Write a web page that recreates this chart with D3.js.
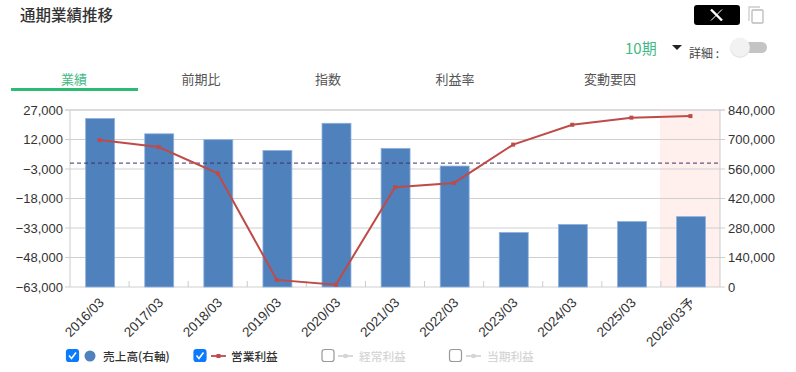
<!DOCTYPE html>
<html>
<head>
<meta charset="utf-8">
<script src="https://cdn.jsdelivr.net/npm/d3@7"></script>
<style>
  html, body { margin: 0; padding: 0; background: #fff; }
  svg { display: block; }
  text { font-family: "Noto Sans CJK JP", "Liberation Sans", sans-serif; }
  .num { font-family: "Liberation Sans", sans-serif; font-size: 13px; fill: #333; }
</style>
</head>
<body>
<div id="chart"></div>
<script>
// Data
const periods = ["2016/03", "2017/03", "2018/03", "2019/03", "2020/03", "2021/03", "2022/03", "2023/03", "2024/03", "2025/03", "2026/03予"]
const sales = [800000, 727000, 699000, 648000, 777000, 658000, 574000, 259000, 297000, 311000, 334000]
const operatingProfit = [11700, 8200, -5200, -59400, -61800, -12300, -10100, 9400, 19500, 23100, 23900]
const leftTicks = [27000, 12000, -3000, -18000, -33000, -48000, -63000]
const rightTicks = [840000, 700000, 560000, 420000, 280000, 140000, 0]
const tabs = ["業績", "前期比", "指数", "利益率", "変動要因"]
const forecastPeriod = "2026/03予"

const margin = { top: 110, right: 76, bottom: 85, left: 70 }
const width = 796 - margin.left - margin.right
const height = 372 - margin.top - margin.bottom

const svg = d3.select("#chart").append("svg").attr("width", 796).attr("height", 372)

// Header
svg.append("text").attr("x", 20).attr("y", 21).attr("font-size", 15.5).attr("font-weight", 500).attr("fill", "#333").text("通期業績推移")

svg.append("rect").attr("x", 694).attr("y", 5).attr("width", 46).attr("height", 20).attr("rx", 3).attr("fill", "#000")
// X logo
svg.append("path").attr("d", "M711 9.5L722 20.5").attr("stroke", "#fff").attr("stroke-width", 2.4)
svg.append("path").attr("d", "M722 9.5L711 20.5").attr("stroke", "#fff").attr("stroke-width", 1)

// Copy icon
svg.append("path").attr("d", "M749 21V7H760").attr("fill", "none").attr("stroke", "#ccc").attr("stroke-width", 1.3)
svg.append("rect").attr("x", 752).attr("y", 10).attr("width", 11).attr("height", 13).attr("rx", 1).attr("fill", "#fff").attr("stroke", "#bbb").attr("stroke-width", 1.3)

svg.append("text").attr("x", 625).attr("y", 54).attr("font-size", 15).attr("fill", "#3fba84").text("10期")
svg.append("path").attr("d", "M672 45H682L677 50Z").attr("fill", "#222")
svg.append("text").attr("x", 689).attr("y", 58).attr("font-size", 12).attr("fill", "#444").text("詳細 :")

// Toggle
svg.append("rect").attr("x", 736).attr("y", 42).attr("width", 31).attr("height", 11).attr("rx", 5.5).attr("fill", "#c4c4c4")
svg.append("circle").attr("cx", 740).attr("cy", 48).attr("r", 10).attr("fill", "#e4e4e4")
svg.append("circle").attr("cx", 740).attr("cy", 47).attr("r", 9.5).attr("fill", "#f2f2f2")

// Tabs
const tabX = d3.scaleOrdinal().domain(tabs).range([74, 201, 328, 455, 610])
svg.selectAll(".tab").data(tabs).enter().append("text")
  .attr("class", "tab")
  .attr("x", (d) => tabX(d))
  .attr("y", 84)
  .attr("text-anchor", "middle")
  .attr("font-size", 13)
  .attr("fill", (d, i) => (i === 0 ? "#3fba84" : "#555"))
  .text((d) => d)
svg.append("rect").attr("x", 11).attr("y", 88).attr("width", 127).attr("height", 3).attr("fill", "#2dba72")

const g = svg.append("g").attr("transform", `translate(${margin.left},${margin.top})`)

// Scales
const xScale = d3.scaleBand().domain(periods).range([0, width])
const yLeft = d3.scaleLinear().domain([-63000, 27000]).range([height, 0])
const yRight = d3.scaleLinear().domain([0, 840000]).range([height, 0])

// Forecast band
g.append("rect")
  .attr("x", xScale(forecastPeriod) - 1)
  .attr("y", 0)
  .attr("width", xScale.bandwidth() + 1)
  .attr("height", height)
  .attr("fill", "#fff0ee")

// Gridlines
g.selectAll(".grid").data(leftTicks).enter().append("line")
  .attr("class", "grid")
  .attr("x1", -5)
  .attr("x2", width + 5)
  .attr("y1", (d) => yLeft(d))
  .attr("y2", (d) => yLeft(d))
  .attr("stroke", (d, i) => (i === 0 ? "#dcdcdc" : "#cfcfcf"))
  .attr("stroke-width", (d, i) => (i === 0 ? 2 : 1.2))

g.append("line").attr("x1", 0).attr("x2", 0).attr("y1", 0).attr("y2", height).attr("stroke", "#ccc")
g.append("line").attr("x1", width).attr("x2", width).attr("y1", 0).attr("y2", height).attr("stroke", "#ccc")

// Category tick marks between the bars
g.selectAll(".cat-tick").data(periods.slice(1)).enter().append("line")
  .attr("class", "cat-tick")
  .attr("x1", (d) => xScale(d))
  .attr("x2", (d) => xScale(d))
  .attr("y1", height - 6)
  .attr("y2", height)
  .attr("stroke", "#ccc")

// Bars
g.selectAll(".bar").data(periods).enter().append("rect")
  .attr("class", "bar")
  .attr("x", (d) => xScale(d) + xScale.bandwidth() * 0.265)
  .attr("y", (d, i) => yRight(sales[i]))
  .attr("width", xScale.bandwidth() * 0.49)
  .attr("height", (d, i) => height - yRight(sales[i]))
  .attr("fill", "#4f81bd")
  .attr("stroke", "#8fb2de")
  .attr("stroke-width", 0.8)

// Zero line of the left axis
g.append("line")
  .attr("x1", 0)
  .attr("x2", width)
  .attr("y1", yLeft(0))
  .attr("y2", yLeft(0))
  .attr("stroke", "#3b2f6b")
  .attr("stroke-width", 1)
  .attr("stroke-dasharray", "4,3")

// Operating profit line
const line = d3.line()
  .x((d, i) => xScale(periods[i]) + xScale.bandwidth() / 2)
  .y((d) => yLeft(d))

g.append("path").datum(operatingProfit)
  .attr("d", line)
  .attr("fill", "none")
  .attr("stroke", "#be4b48")
  .attr("stroke-width", 2)

g.selectAll(".marker").data(operatingProfit).enter().append("rect")
  .attr("class", "marker")
  .attr("x", (d, i) => xScale(periods[i]) + xScale.bandwidth() / 2 - 2)
  .attr("y", (d) => yLeft(d) - 2)
  .attr("width", 4)
  .attr("height", 4)
  .attr("fill", "#be4b48")

// Axis labels
g.selectAll(".left-label").data(leftTicks).enter().append("text")
  .attr("class", "num left-label")
  .attr("x", -7)
  .attr("y", (d) => yLeft(d))
  .attr("dy", "0.35em")
  .attr("text-anchor", "end")
  .text((d) => d3.format(",")(d))

g.selectAll(".right-label").data(rightTicks).enter().append("text")
  .attr("class", "num right-label")
  .attr("x", width + 8)
  .attr("y", (d) => yRight(d))
  .attr("dy", "0.35em")
  .text((d) => d3.format(",")(d))

g.selectAll(".x-label").data(periods).enter().append("text")
  .attr("class", "num x-label")
  .attr("text-anchor", "end")
  .attr("transform", (d) => `translate(${xScale(d) + xScale.bandwidth() / 2 + 2},${height + 13}) rotate(-45)`)
  .attr("dy", "0.35em")
  .style("font-family", "'Liberation Sans', 'Noto Sans CJK JP', sans-serif")
  .style("font-size", "13.5px")
  .text((d) => d)

// Legend
function checkbox(x, on) {
  svg.append("rect").attr("x", x).attr("y", 349.5).attr("width", 12).attr("height", 12).attr("rx", 2.5)
    .attr("fill", on ? "#0a7aff" : "#fff")
    .attr("stroke", on ? "#0a7aff" : "#999")
    .attr("stroke-width", 1.2)
  if (on) {
    svg.append("path").attr("d", `M${x + 2.5} ${355.5}L${x + 5} ${358.5}L${x + 9.5} ${352.5}`)
      .attr("fill", "none").attr("stroke", "#fff").attr("stroke-width", 1.6)
  }
}

function legendLine(x, color) {
  svg.append("line").attr("x1", x).attr("x2", x + 15).attr("y1", 356).attr("y2", 356).attr("stroke", color).attr("stroke-width", 1.8)
  svg.append("rect").attr("x", x + 5.5).attr("y", 354).attr("width", 4).attr("height", 4).attr("fill", color)
}

function legendText(x, label, color) {
  svg.append("text").attr("x", x).attr("y", 361).attr("font-size", 11.7).attr("font-weight", 500).attr("fill", color).text(label)
}

checkbox(66.5, true)
svg.append("circle").attr("cx", 90).attr("cy", 356).attr("r", 5.5).attr("fill", "#4f81bd")
legendText(103, "売上高(右軸)", "#333")

checkbox(194, true)
legendLine(211, "#be4b48")
legendText(231, "営業利益", "#333")

checkbox(322, false)
legendLine(338, "#d5d5d5")
legendText(359, "経常利益", "#d5d5d5")

checkbox(449.5, false)
legendLine(466, "#d5d5d5")
legendText(487, "当期利益", "#d5d5d5")
</script>
</body>
</html>
